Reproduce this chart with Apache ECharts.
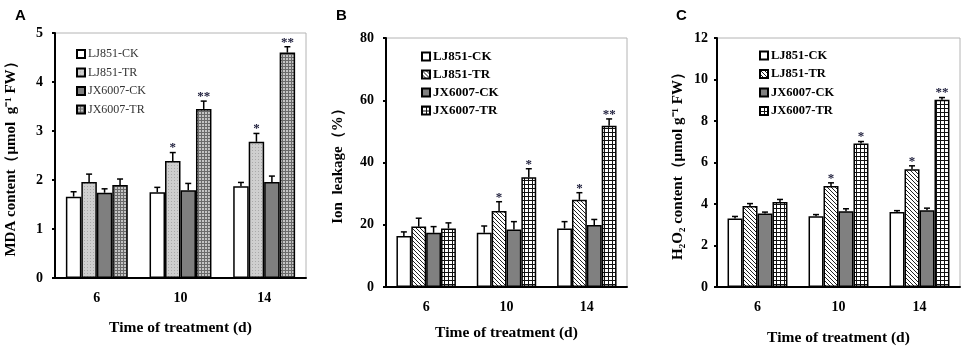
<!DOCTYPE html>
<html>
<head>
<meta charset="utf-8">
<script src="https://cdn.jsdelivr.net/npm/echarts@6/dist/echarts.min.js"></script>
<style>
  html, body { margin: 0; padding: 0; background: #fff; }
  #chart { width: 964px; height: 347px; }
</style>
</head>
<body>
<div id="chart"></div>
<script>
// categories
const days = ['6', '10', '14']
const groups = ['LJ851-CK', 'LJ851-TR', 'JX6007-CK', 'JX6007-TR']

// A: MDA content, one row per group (6, 10, 14 d)
const mdaMean = [[1.66, 1.75, 1.87], [1.96, 2.39, 2.78], [1.74, 1.79, 1.96], [1.90, 3.45, 4.60]]
const mdaErr = [[0.10, 0.10, 0.08], [0.16, 0.17, 0.17], [0.08, 0.14, 0.12], [0.12, 0.16, 0.12]]
const mdaSig = [['', '', ''], ['', '*', '*'], ['', '', ''], ['', '**', '**']]

// B: ion leakage
const ionMean = [[16.4, 17.4, 18.8], [19.4, 24.4, 28.0], [17.4, 18.5, 19.9], [18.8, 35.3, 51.8]]
const ionErr = [[1.3, 2.2, 2.2], [2.7, 3.0, 2.3], [2.0, 2.5, 1.8], [1.8, 2.7, 2.2]]
const ionSig = [['', '', ''], ['', '*', '*'], ['', '', ''], ['', '*', '**']]

// C: H2O2 content
const h2o2Mean = [[3.30, 3.41, 3.61], [3.90, 4.87, 5.67], [3.54, 3.65, 3.70], [4.10, 6.91, 9.03]]
const h2o2Err = [[0.10, 0.08, 0.07], [0.12, 0.15, 0.17], [0.07, 0.12, 0.10], [0.12, 0.10, 0.10]]
const h2o2Sig = [['', '', ''], ['', '*', '*'], ['', '', ''], ['', '*', '**']]

// y axis ticks
const yTicks = [[0, 5, 1], [0, 80, 20], [0, 12, 2]]

const SERIF = '"Liberation Serif", "Times New Roman", serif'
const GAP = 0.26

// small tile patterns for the bar fills
const makeTile = (size, draw) => {
  const c = document.createElement('canvas')
  c.width = size
  c.height = size
  const ctx = c.getContext('2d')
  draw(ctx, size)
  return { image: c, repeat: 'repeat' }
}
const dotsLight = makeTile(3, (ctx) => {
  ctx.fillStyle = '#cfcfcf'; ctx.fillRect(0, 0, 3, 3)
  ctx.fillStyle = '#a9a9a9'; ctx.fillRect(0, 0, 1, 1)
})
const gridFine = makeTile(3, (ctx) => {
  ctx.fillStyle = '#c4c4c4'; ctx.fillRect(0, 0, 3, 3)
  ctx.fillStyle = '#6a6a6a'; ctx.fillRect(0, 0, 3, 1); ctx.fillRect(0, 0, 1, 3)
})
const diag = makeTile(4, (ctx) => {
  ctx.fillStyle = '#ffffff'; ctx.fillRect(0, 0, 4, 4)
  ctx.fillStyle = '#222'
  for (let i = 0; i < 4; i++) ctx.fillRect(i, i, 1, 1)
})
const gridOpen = makeTile(4, (ctx) => {
  ctx.fillStyle = '#ffffff'; ctx.fillRect(0, 0, 4, 4)
  ctx.fillStyle = '#111'; ctx.fillRect(0, 0, 4, 1); ctx.fillRect(0, 0, 1, 4)
})

const panels = [
  {
    key: 'A', mean: mdaMean, err: mdaErr, sig: mdaSig,
    fills: ['#ffffff', dotsLight, '#7f7f7f', gridFine],
    grid: { left: 55, right: 658, top: 33, bottom: 69 },
    yName: 'MDA content（μmol  g⁻¹ FW）', yNameGap: 36, yLabelMargin: 12,
    xNameGap: 42, legend: { left: 71, top: 43, gap: 6.5 }, legendWeight: 'normal', legendColor: '#333', legendSize: 12
  },
  {
    key: 'B', mean: ionMean, err: ionErr, sig: ionSig,
    fills: ['#ffffff', diag, '#808080', gridOpen],
    grid: { left: 386, right: 337, top: 38, bottom: 60 },
    yName: 'Ion  leakage（%）', yNameGap: 40, yLabelMargin: 12,
    xNameGap: 38, legend: { left: 416, top: 45, gap: 5 }, legendWeight: 'bold', legendColor: '#000', legendSize: 13
  },
  {
    key: 'C', mean: h2o2Mean, err: h2o2Err, sig: h2o2Sig,
    fills: ['#ffffff', diag, '#808080', gridOpen],
    grid: { left: 717, right: 4, top: 38, bottom: 60 },
    yName: 'H₂O₂ content（μmol g⁻¹ FW）', yNameGap: 31, yLabelMargin: 9,
    xNameGap: 43, legend: { left: 754, top: 44, gap: 5.5 }, legendWeight: 'bold', legendColor: '#000', legendSize: 12.5
  }
]

const grids = []
const xAxes = []
const yAxes = []
const legends = []
const titles = []
const series = []
const titleLeft = [10, 331, 671]

panels.forEach((p, pi) => {
  grids.push({
    ...p.grid,
    outerBoundsMode: 'none',
    show: true,
    borderColor: '#b4b4b4',
    borderWidth: 1
  })
  titles.push({
    text: p.key,
    left: titleLeft[pi],
    top: 3,
    textStyle: { fontFamily: '"Liberation Sans", Arial, sans-serif', fontWeight: 'bold', fontSize: 15, color: '#000' }
  })
  xAxes.push({
    type: 'category',
    gridIndex: pi,
    data: days,
    name: 'Time of treatment (d)',
    nameLocation: 'middle',
    nameGap: p.xNameGap,
    nameTextStyle: { fontFamily: SERIF, fontWeight: 'bold', fontSize: 15.5, color: '#000' },
    axisLine: { lineStyle: { color: '#000', width: 2 } },
    axisTick: { inside: true, length: 3, lineStyle: { color: '#000', width: 2 } },
    axisLabel: { margin: 13, fontFamily: SERIF, fontWeight: 'bold', fontSize: 14, color: '#000' },
    splitLine: { show: false }
  })
  yAxes.push({
    type: 'value',
    gridIndex: pi,
    min: yTicks[pi][0],
    max: yTicks[pi][1],
    interval: yTicks[pi][2],
    name: p.yName,
    nameLocation: 'middle',
    nameGap: p.yNameGap,
    nameTextStyle: { fontFamily: SERIF, fontWeight: 'bold', fontSize: 15, color: '#000' },
    axisLine: { show: true, lineStyle: { color: '#000', width: 2 } },
    axisTick: { show: true, length: 3, lineStyle: { color: '#000', width: 2 } },
    axisLabel: { margin: p.yLabelMargin, fontFamily: SERIF, fontWeight: 'bold', fontSize: 14, color: '#000' },
    splitLine: { show: false }
  })
  legends.push({
    orient: 'vertical',
    left: p.legend.left,
    top: p.legend.top,
    itemWidth: 8,
    itemHeight: 8,
    itemGap: p.legend.gap,
    icon: 'rect',
    selectedMode: false,
    data: groups.map(g => p.key + ':' + g),
    formatter: name => name.split(':')[1],
    textStyle: { fontFamily: SERIF, fontWeight: p.legendWeight, fontSize: p.legendSize, color: p.legendColor, padding: [0, 0, 0, -2] }
  })

  groups.forEach((g, gi) => {
    series.push({
      name: p.key + ':' + g,
      type: 'bar',
      xAxisIndex: pi,
      yAxisIndex: pi,
      data: p.mean[gi],
      barGap: '0%',
      barCategoryGap: (GAP * 100) + '%',
      itemStyle: { color: p.fills[gi], borderColor: '#000', borderWidth: 1.5 },
      z: 2
    })
  })

  // error bars and significance marks
  const errData = []
  groups.forEach((g, gi) => {
    days.forEach((d, ci) => {
      errData.push([ci, p.mean[gi][ci], p.err[gi][ci], gi])
    })
  })
  series.push({
    type: 'custom',
    xAxisIndex: pi,
    yAxisIndex: pi,
    data: errData,
    z: 5,
    silent: true,
    renderItem: (params, api) => {
      const ci = api.value(0)
      const v = api.value(1)
      const e = api.value(2)
      const gi = api.value(3)
      const band = api.size([1, 0])[0]
      const bw = band * (1 - GAP) / 4
      const base = api.coord([ci, v])
      const top = api.coord([ci, v + e])
      const x = base[0] + (gi - 1.5) * bw
      const star = p.sig[gi][ci]
      const children = [
        { type: 'line', shape: { x1: x, y1: base[1], x2: x, y2: top[1] }, style: { stroke: '#000', lineWidth: 1.5 } },
        { type: 'line', shape: { x1: x - 3, y1: top[1], x2: x + 3, y2: top[1] }, style: { stroke: '#000', lineWidth: 1.5 } }
      ]
      if (star) {
        children.push({
          type: 'text',
          x: x,
          y: top[1] - 11,
          style: { text: star, fill: '#1c1c3a', font: 'bold 13px ' + SERIF, align: 'center', verticalAlign: 'top' }
        })
      }
      return { type: 'group', children }
    }
  })
})

const chart = echarts.init(document.getElementById('chart'))
chart.setOption({
  animation: false,
  backgroundColor: '#fff',
  title: titles,
  legend: legends,
  grid: grids,
  xAxis: xAxes,
  yAxis: yAxes,
  series: series
})
window.addEventListener('resize', () => chart.resize())
</script>
</body>
</html>
